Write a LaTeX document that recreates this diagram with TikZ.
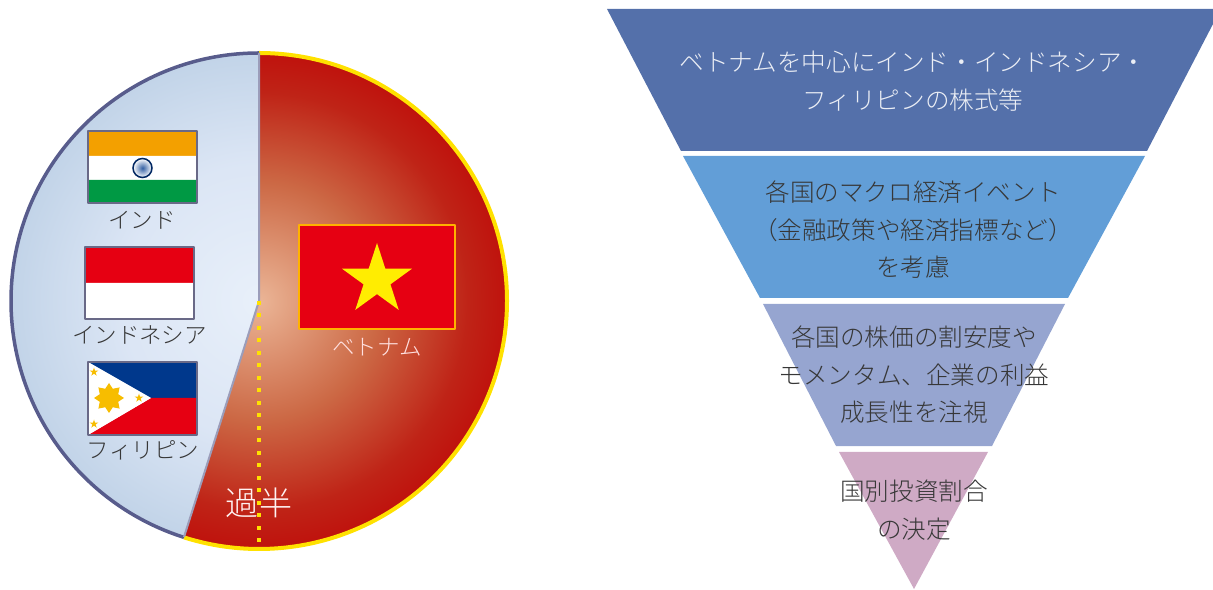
\documentclass[tikz,border=0pt]{standalone}
\usepackage{fontspec}
\usepackage{tkz-euclide}
\usetikzlibrary{shapes.geometric}
\setmainfont{Noto Sans CJK JP}[UprightFont=* Light]
\definecolor{pieyellow}{RGB}{255,225,0}
\definecolor{pieslate}{RGB}{88,92,140}
\definecolor{labelgray}{RGB}{55,55,55}
\definecolor{bandA}{RGB}{84,112,170}
\definecolor{bandB}{RGB}{98,158,215}
\definecolor{bandC}{RGB}{150,165,208}
\definecolor{bandD}{RGB}{207,170,197}
\definecolor{flagred}{RGB}{230,0,18}
\definecolor{flagblue}{RGB}{0,56,140}
\definecolor{flaggreen}{RGB}{0,153,68}
\definecolor{flagorange}{RGB}{243,160,0}
\definecolor{flagedge}{RGB}{105,105,135}
\pgfdeclareradialshading{redpie}{\pgfpoint{0bp}{0bp}}{rgb(0bp)=(.92,.71,.59);
  rgb(12bp)=(.80,.41,.27); rgb(21bp)=(.75,.14,.09); rgb(25bp)=(.75,.07,.05); rgb(50bp)=(.75,.07,.05)}
\pgfdeclareradialshading{bluepie}{\pgfpoint{0bp}{0bp}}{rgb(0bp)=(.91,.94,.98);
  rgb(14bp)=(.86,.90,.96); rgb(25bp)=(.76,.83,.91); rgb(50bp)=(.76,.83,.91)}
\tikzset{
  flaglabel/.style={font=\fontsize{6.4}{8}\selectfont, text=labelgray, inner sep=0pt},
  bandtext/.style={font=\fontsize{7}{10.67}\selectfont, align=center, text=labelgray, inner sep=0pt},
  flagstar/.style={star, star points=5, star point ratio=2.618, inner sep=0pt, draw=none}
}

\begin{document}
\begin{tikzpicture}
\useasboundingbox (0,0) rectangle (12.13,5.89);
\tkzDefPoints{2.59/2.88/O, 2.59/5.36/T, 1.84/0.52/S, 2.59/0.44/Z}
% pie
\begin{scope}
  \clip (O) -- (T) arc (90:-107.63:2.48) -- cycle;
  \shade[shading=redpie] (O) circle (2.48);
\end{scope}
\begin{scope}
  \clip (O) -- (T) arc (90:252.37:2.48) -- cycle;
  \shade[shading=bluepie] (O) circle (2.48);
\end{scope}
\draw[pieyellow, line width=0.04cm] (T) arc (90:-107.63:2.48);
\draw[pieslate, line width=0.035cm] (T) arc (90:252.37:2.48);
\draw[pieslate!60, line width=0.02cm] (T) -- (O) -- (S);
\draw[pieyellow, line width=0.04cm, dash pattern=on 0.04cm off 0.085cm] (O) -- (Z);
% India
\tkzDefPoints{0.88/4.58/Ia, 1.97/4.58/Ib, 1.97/4.33/Ic, 0.88/4.33/Id, 1.97/4.09/Ie, 0.88/4.09/If, 1.97/3.86/Ig, 0.88/3.86/Ih}
\tkzFillPolygon[flagorange](Ia,Ib,Ic,Id)
\tkzFillPolygon[white](Id,Ic,Ie,If)
\tkzFillPolygon[flaggreen](If,Ie,Ig,Ih)
\tkzDrawPolygon[flagedge, line width=0.015cm](Ia,Ib,Ig,Ih)
\node[circle, draw=flagblue!70!black, line width=0.015cm, minimum size=0.19cm, inner sep=0pt, inner color=flagblue!80, outer color=white] (wheel) at (1.425,4.21) {};
\node[flaglabel] (india) at (1.42,3.69) {インド};
% Indonesia
\tkzDefPoints{0.85/3.42/Ja, 1.94/3.42/Jb, 1.94/3.06/Jc, 0.85/3.06/Jd, 1.94/2.70/Je, 0.85/2.70/Jf}
\tkzFillPolygon[flagred](Ja,Jb,Jc,Jd)
\tkzFillPolygon[white](Jd,Jc,Je,Jf)
\tkzDrawPolygon[flagedge, line width=0.015cm](Ja,Jb,Je,Jf)
\node[flaglabel] (indonesia) at (1.395,2.54) {インドネシア};
% Philippines
\tkzDefPoints{0.88/2.27/Pa, 1.97/2.27/Pb, 1.97/1.91/Pc, 1.51/1.91/Pd, 1.97/1.54/Pe, 0.88/1.54/Pf}
\tkzFillPolygon[flagblue](Pa,Pb,Pc,Pd)
\tkzFillPolygon[flagred](Pd,Pc,Pe,Pf)
\tkzFillPolygon[white](Pa,Pd,Pf)
\tkzDrawPolygon[flagedge, line width=0.015cm](Pa,Pb,Pe,Pf)
\node[star, star points=8, star point ratio=1.5, minimum size=0.30cm, inner sep=0pt, fill=flagorange!70!yellow] (sun) at (1.09,1.91) {};
\foreach \x/\y in {0.94/2.17, 1.39/1.91, 0.94/1.65}
  \node[flagstar, minimum size=0.09cm, fill=flagorange!70!yellow] at (\x,\y) {};
\node[flaglabel] (philippines) at (1.43,1.39) {フィリピン};
% Vietnam
\tkzDefPoints{2.99/3.64/Va, 4.55/3.64/Vb, 4.55/2.60/Vc, 2.99/2.60/Vd}
\tkzFillPolygon[flagred](Va,Vb,Vc,Vd)
\tkzDrawPolygon[orange!60!yellow, line width=0.025cm](Va,Vb,Vc,Vd)
\node[flagstar, minimum size=0.74cm, fill=yellow!95!orange] (vnstar) at (3.77,3.09) {};
\node[flaglabel, text=white!88!red] (vietnam) at (3.77,2.42) {ベトナム};
\node[inner sep=0pt, text=white!95!red, font=\fontsize{9.4}{11}\selectfont] (majority) at (2.59,0.86) {過半};
% funnel
\tkzDefPoints{6.07/5.80/A, 12.13/5.80/B, 12.13/5.65/C, 11.47/4.38/D, 6.81/4.38/E}
\tkzDefPoints{6.83/4.33/F, 11.45/4.33/G, 10.68/2.91/H, 7.60/2.91/I}
\tkzDefPoints{7.63/2.85/J, 10.65/2.85/K, 9.92/1.43/L, 8.36/1.43/M}
\tkzDefPoints{8.39/1.37/N, 9.88/1.37/Q, 9.14/0/R}
\tkzFillPolygon[bandA](A,B,C,D,E)
\tkzFillPolygon[bandB](F,G,H,I)
\tkzFillPolygon[bandC](J,K,L,M)
\tkzFillPolygon[bandD](N,Q,R)
\node[bandtext, text=white!88!bandA] (focus) at (9.13,5.08) {ベトナムを中心にインド・インドネシア・\\フィリピンの株式等};
\node[bandtext] (macro) at (9.13,3.59) {各国のマクロ経済イベント\\（金融政策や経済指標など）\\を考慮};
\node[bandtext] (value) at (9.14,2.14) {各国の株価の割安度や\\モメンタム、企業の利益\\成長性を注視};
\node[bandtext] (weight) at (9.14,0.79) {国別投資割合\\の決定};
\end{tikzpicture}
\end{document}
